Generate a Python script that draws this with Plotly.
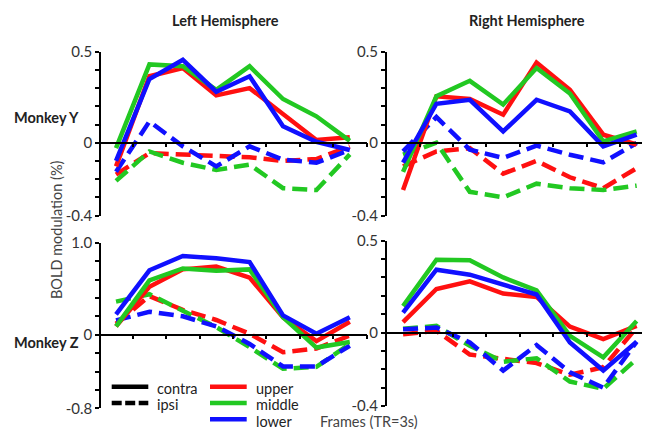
import plotly.graph_objects as go

# ---------------- data ----------------
frames = [0, 1, 2, 3, 4, 5, 6, 7]
frame_ticks = [0.5, 1.5, 2.5, 3.5, 4.5, 5.5, 6.5, 7.5]

# Monkey Y, Left hemisphere
ly_contra_upper = [-0.13, 0.365, 0.41, 0.26, 0.30, 0.16, 0.015, 0.03]
ly_contra_middle = [-0.03, 0.43, 0.42, 0.29, 0.42, 0.24, 0.145, 0.01]
ly_contra_lower = [-0.10, 0.35, 0.455, 0.28, 0.365, 0.09, 0.005, -0.04]
ly_ipsi_upper = [-0.175, -0.057, -0.065, -0.075, -0.08, -0.10, -0.09, -0.02]
ly_ipsi_middle = [-0.21, -0.048, -0.11, -0.15, -0.12, -0.25, -0.26, -0.064]
ly_ipsi_lower = [-0.16, 0.117, -0.02, -0.13, -0.02, -0.093, -0.11, -0.04]

# Monkey Y, Right hemisphere
ry_contra_upper = [-0.26, 0.255, 0.24, 0.154, 0.44, 0.29, 0.044, -0.01]
ry_contra_middle = [-0.16, 0.255, 0.34, 0.21, 0.41, 0.27, 0.007, 0.062]
ry_contra_lower = [-0.11, 0.214, 0.236, 0.062, 0.236, 0.172, -0.02, 0.044]
ry_ipsi_upper = [-0.13, -0.048, -0.03, -0.17, -0.10, -0.19, -0.25, -0.14]
ry_ipsi_middle = [-0.066, 0.0, -0.27, -0.30, -0.225, -0.25, -0.26, -0.236]
ry_ipsi_lower = [-0.048, 0.141, -0.038, -0.084, -0.016, -0.066, -0.108, -0.002]

# Monkey Z, Left hemisphere
lz_contra_upper = [0.09, 0.52, 0.71, 0.74, 0.62, 0.19, -0.07, 0.14]
lz_contra_middle = [0.09, 0.59, 0.72, 0.695, 0.71, 0.19, -0.14, -0.08]
lz_contra_lower = [0.22, 0.70, 0.855, 0.83, 0.79, 0.21, 0.01, 0.19]
lz_ipsi_upper = [0.12, 0.42, 0.27, 0.16, 0.01, -0.19, -0.15, -0.01]
lz_ipsi_middle = [0.36, 0.44, 0.26, 0.083, -0.135, -0.37, -0.35, -0.10]
lz_ipsi_lower = [0.156, 0.25, 0.20, 0.09, -0.10, -0.345, -0.345, -0.12]

# Monkey Z, Right hemisphere
rz_contra_upper = [0.057, 0.237, 0.279, 0.212, 0.194, 0.032, -0.036, 0.036]
rz_contra_middle = [0.144, 0.396, 0.393, 0.30, 0.23, -0.018, -0.135, 0.063]
rz_contra_lower = [0.108, 0.342, 0.315, 0.26, 0.207, -0.054, -0.207, -0.05]
rz_ipsi_upper = [-0.009, 0.009, -0.12, -0.144, -0.166, -0.23, -0.189, 0.027]
rz_ipsi_middle = [0.02, 0.036, -0.072, -0.159, -0.14, -0.267, -0.306, -0.144]
rz_ipsi_lower = [0.018, 0.027, -0.054, -0.207, -0.068, -0.216, -0.30, -0.05]

# y tick values / labels
y_ticks_small = [-0.4, -0.3, -0.2, -0.1, 0.0, 0.1, 0.2, 0.3, 0.4, 0.5]
y_text_small = ["-0.4", "", "", "", "0", "", "", "", "", "0.5"]
y_ticks_big = [-0.8, -0.6, -0.4, -0.2, 0.0, 0.2, 0.4, 0.6, 0.8, 1.0]
y_text_big = ["-0.8", "", "", "", "0", "", "", "", "", "1.0"]

col_titles = ["Left Hemisphere", "Right Hemisphere"]
row_titles = ["Monkey Y", "Monkey Z"]
y_title = "BOLD modulation (%)"
x_title = "Frames (TR=3s)"
style_names = ["contra", "ipsi"]
field_names = ["upper", "middle", "lower"]

# ---------------- styles ----------------
W, H = 650, 432
OX, OY = 8, 8  # page offset of the plot div (body margin)
FONT = "Lato"
colors = {"upper": "#ff1010", "middle": "#22c822", "lower": "#1010ff"}
DASH = "15px,7px"
LW = 4.5


def px(x):
    return (x - OX) / W


def py(y):
    return 1 - (y - OY) / H


panels = [
    ("", (px(101), px(366.5)), (py(215.5), py(51.7)), (-0.4, 0.5),
     (-0.45, 7.5), y_ticks_small, y_text_small,
     {"contra": [ly_contra_upper, ly_contra_middle, ly_contra_lower],
      "ipsi": [ly_ipsi_upper, ly_ipsi_middle, ly_ipsi_lower]}),
    ("2", (px(386.7), px(650)), (py(215.5), py(51.7)), (-0.4, 0.5),
     (-0.49, 7.4), y_ticks_small, y_text_small,
     {"contra": [ry_contra_upper, ry_contra_middle, ry_contra_lower],
      "ipsi": [ry_ipsi_upper, ry_ipsi_middle, ry_ipsi_lower]}),
    ("3", (px(101), px(366.5)), (py(408.3), py(242.7)), (-0.8, 1.0),
     (-0.45, 7.5), y_ticks_big, y_text_big,
     {"contra": [lz_contra_upper, lz_contra_middle, lz_contra_lower],
      "ipsi": [lz_ipsi_upper, lz_ipsi_middle, lz_ipsi_lower]}),
    ("4", (px(386.7), px(650)), (py(406), py(240.7)), (-0.4, 0.5),
     (-0.49, 7.4), y_ticks_small, y_text_small,
     {"contra": [rz_contra_upper, rz_contra_middle, rz_contra_lower],
      "ipsi": [rz_ipsi_upper, rz_ipsi_middle, rz_ipsi_lower]}),
]

fig = go.Figure()
layout = {}
for suf, xd, yd, yr, xr, yt, ytt, data in panels:
    xa, ya = "x" + suf, "y" + suf
    for style in ["ipsi", "contra"]:
        for name, ys in zip(field_names, data[style]):
            fig.add_trace(go.Scatter(
                x=frames, y=ys, mode="lines", xaxis=xa, yaxis=ya,
                line=dict(color=colors[name], width=LW,
                          dash=DASH if style == "ipsi" else "solid"),
                showlegend=False, hoverinfo="skip"))
    zero_pos = yd[0] + (0 - yr[0]) / (yr[1] - yr[0]) * (yd[1] - yd[0])
    layout["xaxis" + suf] = dict(
        domain=list(xd), range=list(xr), anchor="free", position=zero_pos,
        showline=True, linecolor="black", linewidth=1.5,
        ticks="outside", ticklen=4, tickwidth=1.5, tickcolor="black",
        tickvals=frame_ticks, showticklabels=False, automargin=False,
        showgrid=False, zeroline=False, fixedrange=True)
    layout["yaxis" + suf] = dict(
        domain=list(yd), range=list(yr), anchor=xa,
        showline=True, linecolor="black", linewidth=1.5,
        ticks="outside", ticklen=4, tickwidth=1.5, tickcolor="black",
        tickvals=yt, ticktext=ytt, automargin=False,
        tickfont=dict(family=FONT, size=15, color="#333333"),
        showgrid=False, zeroline=False, fixedrange=True)

annotations = [
    dict(text="<b>%s</b>" % col_titles[0], x=px(225), y=py(20)),
    dict(text="<b>%s</b>" % col_titles[1], x=px(526.5), y=py(20)),
    dict(text="<b>%s</b>" % row_titles[0], x=px(12), y=py(117), xanchor="left"),
    dict(text="<b>%s</b>" % row_titles[1], x=px(12), y=py(342), xanchor="left"),
    dict(text=y_title, x=px(57), y=py(230), textangle=-90,
         font=dict(family=FONT, size=14.5, color="#444444")),
    dict(text=x_title, x=px(318), y=py(421.5), xanchor="left",
         font=dict(family=FONT, size=14.5, color="#444444")),
]
leg_rows = [388, 404.5, 421]
for i, s in enumerate(style_names):
    annotations.append(dict(text=s, x=px(155), y=py(leg_rows[i]), xanchor="left",
                            font=dict(family=FONT, size=14.5, color="#222222")))
for i, s in enumerate(field_names):
    annotations.append(dict(text=s, x=px(254), y=py(leg_rows[i]), xanchor="left",
                            font=dict(family=FONT, size=14.5, color="#222222")))
for a in annotations:
    a.setdefault("xref", "paper")
    a.setdefault("yref", "paper")
    a.setdefault("showarrow", False)
    a.setdefault("xanchor", "center")
    a.setdefault("yanchor", "middle")
    a.setdefault("font", dict(family=FONT, size=14.5, color="#222222"))

line_rows = [386.7, 403, 419.3]
shapes = []
for i, s in enumerate(style_names):
    shapes.append(dict(type="line", xref="paper", yref="paper",
                       x0=px(111.7), x1=px(148.3),
                       y0=py(line_rows[i]), y1=py(line_rows[i]),
                       line=dict(color="black", width=4.5,
                                 dash="solid" if s == "contra" else "10px,3.5px")))
for i, s in enumerate(field_names):
    shapes.append(dict(type="line", xref="paper", yref="paper",
                       x0=px(210), x1=px(246.7),
                       y0=py(line_rows[i]), y1=py(line_rows[i]),
                       line=dict(color=colors[s], width=4.5)))

fig.update_layout(
    width=W, height=H,
    margin=dict(l=0, r=0, t=0, b=0, pad=0, autoexpand=False),
    paper_bgcolor="white", plot_bgcolor="white",
    font=dict(family=FONT), showlegend=False,
    annotations=annotations, shapes=shapes, **layout)

fig.write_html("out.html")
